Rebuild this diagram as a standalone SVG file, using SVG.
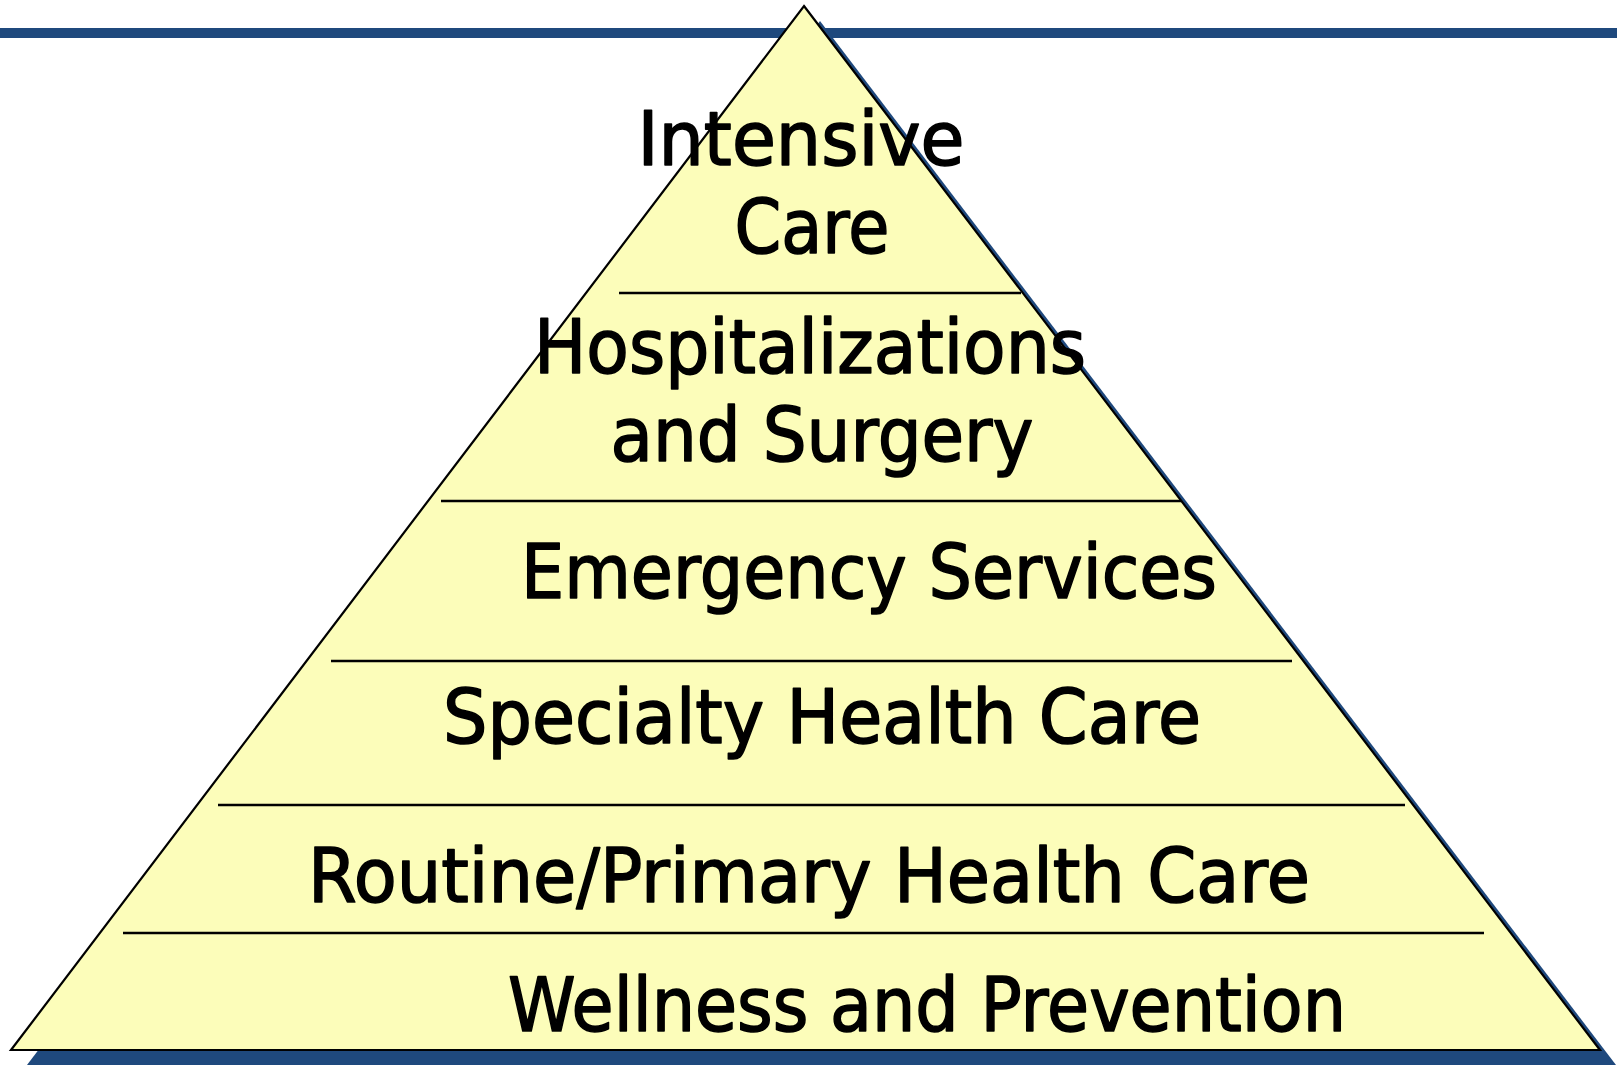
<svg xmlns="http://www.w3.org/2000/svg" width="1617" height="1065" viewBox="0 0 1617 1065">
  <style>
    .lbl { font-family: "DejaVu Sans", "Liberation Sans", sans-serif; font-size: 75px; fill: #000; stroke: #000; stroke-width: 1.6; stroke-linejoin: round; text-anchor: middle; }
    .div { stroke: #000; stroke-width: 2.4; }
  </style>
  <rect x="0" y="0" width="1617" height="1065" fill="#ffffff"/>
  <rect id="top-bar" x="0" y="28" width="1617" height="10" fill="#1f497d"/>
  <g id="pyramid">
    <polygon points="820,21 1616,1065 27,1065" fill="#1f497d"/>
    <polygon points="804,6 1600,1050 11,1050" fill="#fcfdba" stroke="#000" stroke-width="2.2" stroke-linejoin="miter"/>
  </g>
  <g id="dividers">
    <line class="div" x1="619" y1="293" x2="1021" y2="293"/>
    <line class="div" x1="441" y1="501" x2="1181" y2="501"/>
    <line class="div" x1="331" y1="661" x2="1292" y2="661"/>
    <line class="div" x1="218" y1="805" x2="1405" y2="805"/>
    <line class="div" x1="123" y1="933" x2="1484" y2="933"/>
  </g>
  <g id="tier-intensive-care">
    <text class="lbl" x="801" y="165" textLength="327" lengthAdjust="spacingAndGlyphs">Intensive</text>
    <text class="lbl" x="812" y="253" textLength="155" lengthAdjust="spacingAndGlyphs">Care</text>
  </g>
  <g id="tier-hospitalizations">
    <text class="lbl" x="810" y="373" textLength="552" lengthAdjust="spacingAndGlyphs">Hospitalizations</text>
    <text class="lbl" x="822" y="461" textLength="423" lengthAdjust="spacingAndGlyphs">and Surgery</text>
  </g>
  <g id="tier-emergency">
    <text class="lbl" x="869" y="598" textLength="696" lengthAdjust="spacingAndGlyphs">Emergency Services</text>
  </g>
  <g id="tier-specialty">
    <text class="lbl" x="822" y="743" textLength="758" lengthAdjust="spacingAndGlyphs">Specialty Health Care</text>
  </g>
  <g id="tier-routine">
    <text class="lbl" x="809" y="902" textLength="1002" lengthAdjust="spacingAndGlyphs">Routine/Primary Health Care</text>
  </g>
  <g id="tier-wellness">
    <text class="lbl" x="927" y="1031" textLength="838" lengthAdjust="spacingAndGlyphs">Wellness and Prevention</text>
  </g>
</svg>
